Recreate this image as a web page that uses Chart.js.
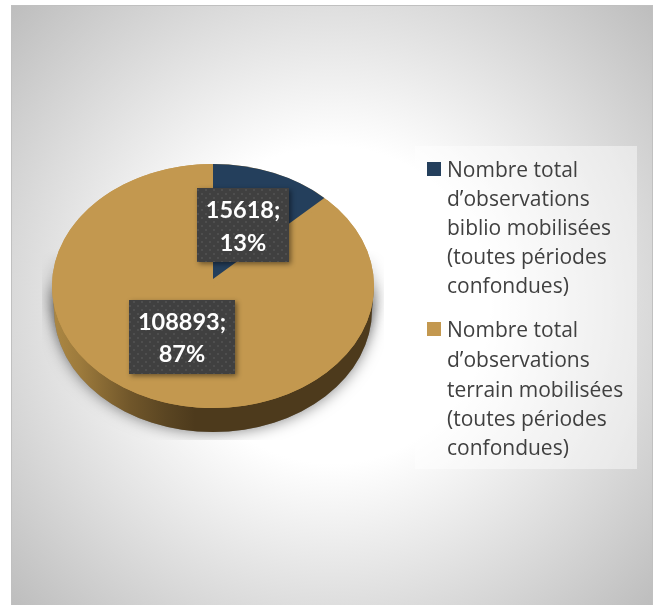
<!DOCTYPE html>
<html>
<head>
<meta charset="utf-8">
<script src="https://cdn.jsdelivr.net/npm/chart.js@4"></script>
<style>html,body{margin:0;padding:0;background:#fff;overflow:hidden}canvas{display:block}</style>
</head>
<body>
<canvas id="c" width="660" height="605"></canvas>
<script>
const categories = [
  ["Nombre total","d’observations","biblio mobilisées","(toutes périodes","confondues)"],
  ["Nombre total","d’observations","terrain mobilisées","(toutes périodes","confondues)"]
];
const seriesValues = [15618, 108893];
const sliceColors = ["#243f5c", "#c3984f"];

const FRAME = {x:11, y:5, w:642, h:603};
const GLOW = {x:332, y:305, r:440};
const TILT = 122/161, DEPTH = 24;
const SHADOW = {x:42, y:250, w:342, h:190};
const LEGEND = {x:415, y:146, w:222, h:323, swatchX:427, swatch:14, textX:447};
const LEGEND_BASE = [[177,206,235,264,293],[337,367,397,426,455]];
const BOXES = [{x:197,y:188,w:92,h:74,base:[218,251]},{x:129,y:300,w:106,h:74,base:[330,362]}];

function dotPattern(ctx){
  const p=document.createElement('canvas');p.width=8;p.height=8;
  const g=p.getContext('2d');g.fillStyle='#404040';g.fillRect(0,0,8,8);
  g.fillStyle='#4e4e4e';g.fillRect(1,1,2,2);g.fillRect(5,5,2,2);
  return ctx.createPattern(p,'repeat');
}

function wallPath(c,cx,cy,R,ry){
  c.beginPath();
  c.moveTo(cx-R,cy);
  c.lineTo(cx-R+2,cy+DEPTH);
  c.ellipse(cx,cy+DEPTH,R-2,ry,0,Math.PI,0,true);
  c.lineTo(cx+R,cy);
  c.closePath();
}

const pie3d = {
  id:'pie3d',
  beforeDraw(chart){
    const c=chart.ctx;
    c.save();
    c.fillStyle='#fff';c.fillRect(0,0,chart.width,chart.height);
    const g=c.createRadialGradient(GLOW.x,GLOW.y,0,GLOW.x,GLOW.y,GLOW.r);
    g.addColorStop(0,'#ffffff');g.addColorStop(.36,'#ffffff');g.addColorStop(.7,'#dcdcdc');g.addColorStop(1,'#bdbdbd');
    c.fillStyle=g;c.fillRect(FRAME.x,FRAME.y,FRAME.w,FRAME.h);
    c.strokeStyle='#c0c0c0';c.lineWidth=1;c.strokeRect(FRAME.x+.5,FRAME.y+.5,FRAME.w-1,FRAME.h-1);
    c.restore();
  },
  beforeDatasetDraw(chart){
    const c=chart.ctx, arcs=chart.getDatasetMeta(0).data;
    const {x:cx,y:cy,outerRadius:R}=arcs[0];
    const ry=R*TILT;
    // soft shadow, cut to a box and faded at the top
    const off=document.createElement('canvas');off.width=chart.width;off.height=chart.height;
    const o=off.getContext('2d');
    o.save();
    o.shadowColor='rgba(0,0,0,.5)';o.shadowBlur=15;
    o.fillStyle='#888';
    wallPath(o,cx,cy,R,ry);o.fill();
    o.beginPath();o.ellipse(cx,cy,R,ry,0,0,Math.PI*2);o.fill();
    o.restore();
    o.globalCompositeOperation='destination-in';
    const m=o.createLinearGradient(0,SHADOW.y,0,SHADOW.y+60);
    m.addColorStop(0,'rgba(0,0,0,0)');m.addColorStop(1,'rgba(0,0,0,1)');
    o.fillStyle=m;o.fillRect(SHADOW.x,SHADOW.y,SHADOW.w,SHADOW.h);
    c.drawImage(off,0,0);

    c.save();
    const wall=c.createLinearGradient(cx-R,0,cx-R+143,0);
    wall.addColorStop(0,'#ad8843');wall.addColorStop(.2,'#9c7a3c');wall.addColorStop(.55,'#70562a');wall.addColorStop(.8,'#5a4522');wall.addColorStop(1,'#4d3a1c');
    c.fillStyle=wall;
    wallPath(c,cx,cy,R,ry);c.fill();
    // top face base
    c.fillStyle=sliceColors[1];
    c.beginPath();c.ellipse(cx,cy,R,ry,0,0,Math.PI*2);c.fill();
    // terrain slice
    c.save();
    c.translate(cx,cy);c.scale(1,TILT);c.translate(-cx,-cy);
    arcs[1].draw(c);
    c.restore();
    // biblio slice, apex lifted by perspective
    c.save();
    c.translate(cx,cy-7);c.scale(157/161,115/161);c.translate(-cx,-cy);
    arcs[0].draw(c);
    c.restore();
    c.restore();
    return false;
  },
  afterDatasetsDraw(chart){
    const c=chart.ctx;
    const total=seriesValues.reduce((a,b)=>a+b,0);
    const pat=dotPattern(c);
    c.save();
    // data labels
    BOXES.forEach((b,i)=>{
      c.save();
      c.shadowColor='rgba(0,0,0,.45)';c.shadowBlur=5;c.shadowOffsetX=2;c.shadowOffsetY=2;
      c.fillStyle='#404040';c.fillRect(b.x,b.y,b.w,b.h);
      c.restore();
      c.fillStyle=pat;c.fillRect(b.x,b.y,b.w,b.h);
      c.fillStyle='#fff';c.font='bold 23.5px Lato';c.textAlign='center';c.textBaseline='alphabetic';
      const mx=b.x+b.w/2;
      c.fillText(seriesValues[i]+';',mx,b.base[0]);
      c.fillText(Math.round(seriesValues[i]/total*100)+'%',mx,b.base[1]);
    });
    // legend
    c.fillStyle='rgba(255,255,255,.45)';
    c.fillRect(LEGEND.x,LEGEND.y,LEGEND.w,LEGEND.h);
    categories.forEach((lines,i)=>{
      c.fillStyle=sliceColors[i];
      c.fillRect(LEGEND.swatchX,LEGEND_BASE[i][0]-15,LEGEND.swatch,LEGEND.swatch);
      c.fillStyle='#404040';c.font='21px "Open Sans"';c.textAlign='left';c.textBaseline='alphabetic';
      lines.forEach((t,j)=>c.fillText(t,LEGEND.textX,LEGEND_BASE[i][j]));
    });
    c.restore();
  }
};

new Chart(document.getElementById('c'),{
  type:'pie',
  data:{labels:categories.map(l=>l.join(' ')),datasets:[{data:seriesValues,backgroundColor:sliceColors,borderWidth:0,hoverOffset:0}]},
  options:{
    responsive:false,animation:false,
    layout:{padding:{left:52,right:286,top:125,bottom:158}},
    plugins:{legend:{display:false},tooltip:{enabled:false}}
  },
  plugins:[pie3d]
});
</script>
</body>
</html>
